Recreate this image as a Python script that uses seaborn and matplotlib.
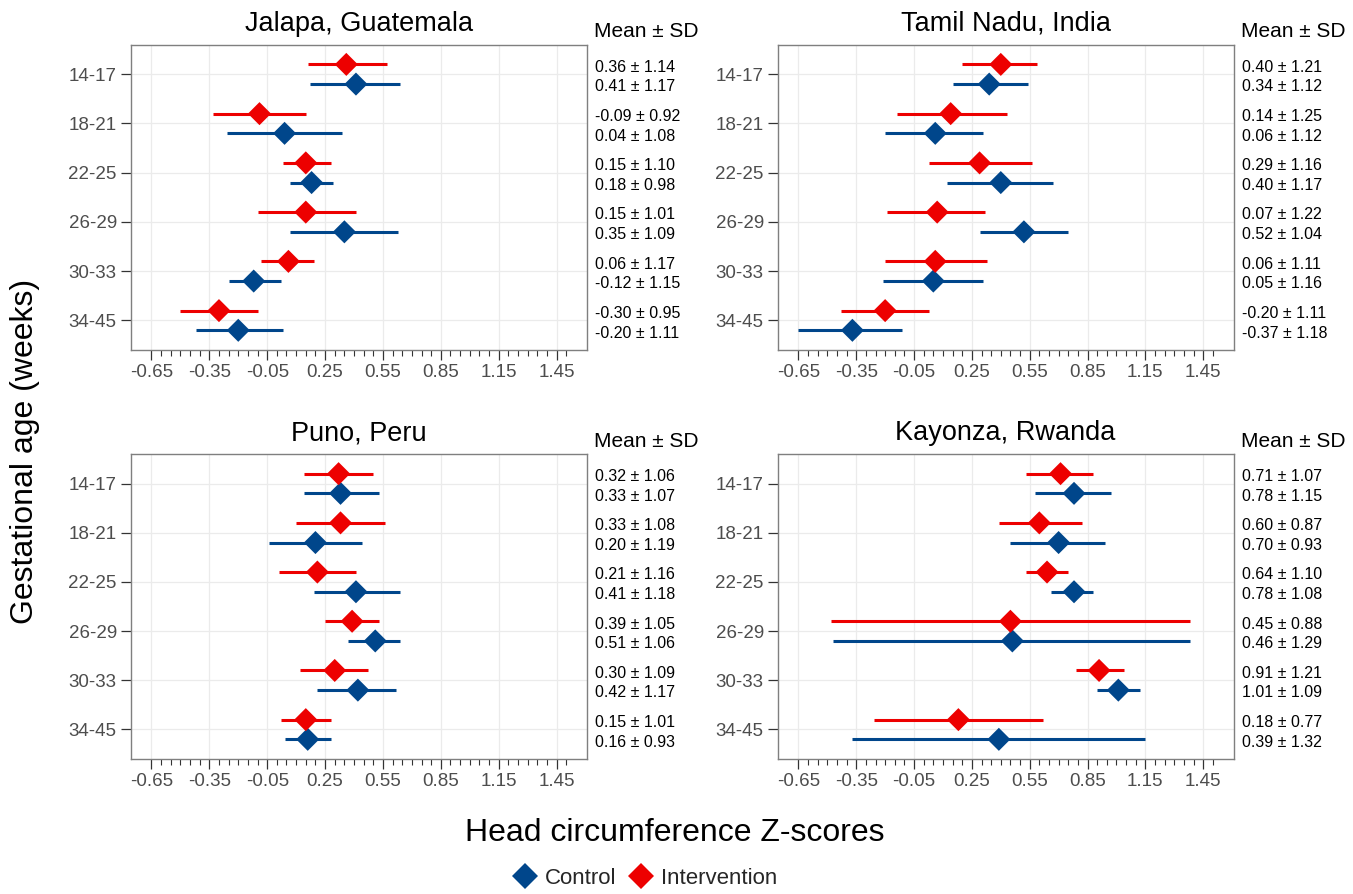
import numpy as np
import pandas as pd
import matplotlib
matplotlib.use("Agg")
import matplotlib.pyplot as plt
import matplotlib.transforms as mtransforms
from matplotlib.lines import Line2D
from matplotlib.ticker import FixedLocator
import seaborn as sns

# ---------------------------------------------------------------- data
age_groups = ["14-17", "18-21", "22-25", "26-29", "30-33", "34-45"]
regions = ["Jalapa, Guatemala", "Tamil Nadu, India", "Puno, Peru", "Kayonza, Rwanda"]
arms = ["Control", "Intervention"]
arm_colors = {"Control": "#00468B", "Intervention": "#ED0000"}

xticks = [-0.65, -0.35, -0.05, 0.25, 0.55, 0.85, 1.15, 1.45]
xtick_labels = ["-0.65", "-0.35", "-0.05", "0.25", "0.55", "0.85", "1.15", "1.45"]

# Jalapa, Guatemala
jal_int_mean = [0.36, -0.09, 0.15, 0.15, 0.06, -0.30]
jal_int_sd = [1.14, 0.92, 1.10, 1.01, 1.17, 0.95]
jal_int_lo = [0.16, -0.33, 0.03, -0.10, -0.08, -0.50]
jal_int_hi = [0.57, 0.15, 0.28, 0.41, 0.19, -0.10]
jal_ctl_mean = [0.41, 0.04, 0.18, 0.35, -0.12, -0.20]
jal_ctl_sd = [1.17, 1.08, 0.98, 1.09, 1.15, 1.11]
jal_ctl_lo = [0.17, -0.26, 0.07, 0.07, -0.25, -0.42]
jal_ctl_hi = [0.64, 0.34, 0.29, 0.63, 0.02, 0.03]

# Tamil Nadu, India
tam_int_mean = [0.40, 0.14, 0.29, 0.07, 0.06, -0.20]
tam_int_sd = [1.21, 1.25, 1.16, 1.22, 1.11, 1.11]
tam_int_lo = [0.20, -0.14, 0.03, -0.19, -0.20, -0.43]
tam_int_hi = [0.59, 0.43, 0.56, 0.32, 0.33, 0.03]
tam_ctl_mean = [0.34, 0.06, 0.40, 0.52, 0.05, -0.37]
tam_ctl_sd = [1.12, 1.12, 1.17, 1.04, 1.16, 1.18]
tam_ctl_lo = [0.15, -0.20, 0.12, 0.29, -0.21, -0.65]
tam_ctl_hi = [0.54, 0.31, 0.67, 0.75, 0.31, -0.11]

# Puno, Peru
pun_int_mean = [0.32, 0.33, 0.21, 0.39, 0.30, 0.15]
pun_int_sd = [1.06, 1.08, 1.16, 1.05, 1.09, 1.01]
pun_int_lo = [0.14, 0.10, 0.01, 0.25, 0.12, 0.02]
pun_int_hi = [0.50, 0.56, 0.41, 0.53, 0.47, 0.28]
pun_ctl_mean = [0.33, 0.20, 0.41, 0.51, 0.42, 0.16]
pun_ctl_sd = [1.07, 1.19, 1.18, 1.06, 1.17, 0.93]
pun_ctl_lo = [0.14, -0.04, 0.19, 0.37, 0.21, 0.04]
pun_ctl_hi = [0.53, 0.44, 0.64, 0.64, 0.62, 0.28]

# Kayonza, Rwanda
kay_int_mean = [0.71, 0.60, 0.64, 0.45, 0.91, 0.18]
kay_int_sd = [1.07, 0.87, 1.10, 0.88, 1.21, 0.77]
kay_int_lo = [0.53, 0.39, 0.53, -0.48, 0.79, -0.26]
kay_int_hi = [0.88, 0.82, 0.75, 1.38, 1.04, 0.62]
kay_ctl_mean = [0.78, 0.70, 0.78, 0.46, 1.01, 0.39]
kay_ctl_sd = [1.15, 0.93, 1.08, 1.29, 1.09, 1.32]
kay_ctl_lo = [0.58, 0.45, 0.66, -0.47, 0.90, -0.37]
kay_ctl_hi = [0.97, 0.94, 0.88, 1.38, 1.12, 1.15]

region_series = {
    "Jalapa, Guatemala": {
        "Intervention": (jal_int_mean, jal_int_sd, jal_int_lo, jal_int_hi),
        "Control": (jal_ctl_mean, jal_ctl_sd, jal_ctl_lo, jal_ctl_hi)},
    "Tamil Nadu, India": {
        "Intervention": (tam_int_mean, tam_int_sd, tam_int_lo, tam_int_hi),
        "Control": (tam_ctl_mean, tam_ctl_sd, tam_ctl_lo, tam_ctl_hi)},
    "Puno, Peru": {
        "Intervention": (pun_int_mean, pun_int_sd, pun_int_lo, pun_int_hi),
        "Control": (pun_ctl_mean, pun_ctl_sd, pun_ctl_lo, pun_ctl_hi)},
    "Kayonza, Rwanda": {
        "Intervention": (kay_int_mean, kay_int_sd, kay_int_lo, kay_int_hi),
        "Control": (kay_ctl_mean, kay_ctl_sd, kay_ctl_lo, kay_ctl_hi)},
}

rows = []
for reg in regions:
    for arm in arms:
        mean, sd, lo, hi = region_series[reg][arm]
        for i, g in enumerate(age_groups):
            rows.append(dict(region=reg, arm=arm, age=g, age_idx=i,
                             mean=mean[i], sd=sd[i], lo=lo[i], hi=hi[i]))
df = pd.DataFrame(rows)
dodge = {"Intervention": -0.2, "Control": 0.2}
df["ypos"] = df["age_idx"] + df["arm"].map(dodge)

# ---------------------------------------------------------------- style
sns.set_theme(style="white")
plt.rcParams["font.family"] = ["Liberation Sans", "DejaVu Sans"]

W, H = 1353, 894
fig = plt.figure(figsize=(W / 100, H / 100), dpi=100)

# panel boxes in pixels: left, right, top, bottom
boxes = {
    "Jalapa, Guatemala": (130.7, 587.0, 44.7, 350.0),
    "Tamil Nadu, India": (777.7, 1233.5, 44.7, 350.0),
    "Puno, Peru": (130.7, 587.0, 454.0, 759.0),
    "Kayonza, Rwanda": (777.7, 1233.5, 454.0, 759.0),
}

tick_grey = "#4D4D4D"
for reg in regions:
    l, r, t, b = boxes[reg]
    ax = fig.add_axes([l / W, 1 - b / H, (r - l) / W, (b - t) / H])
    sub = df[df["region"] == reg]

    # confidence-interval bars
    for arm in arms:
        s = sub[sub["arm"] == arm]
        ax.hlines(s["ypos"], s["lo"], s["hi"], color=arm_colors[arm],
                  lw=2.2, zorder=2)
    sns.scatterplot(data=sub, x="mean", y="ypos", hue="arm",
                    palette=arm_colors, marker="D", s=138, linewidth=0,
                    legend=False, ax=ax, zorder=3)

    ax.set_xlim(-0.7575, 1.6075)
    ax.set_ylim(len(age_groups) - 0.4, -0.6)
    ax.xaxis.set_major_locator(FixedLocator(xticks))
    ax.set_xticklabels(xtick_labels)
    ax.xaxis.set_minor_locator(FixedLocator(np.round(np.arange(-0.65, 1.501, 0.05), 2)))
    ax.set_yticks(range(len(age_groups)))
    ax.set_yticklabels(age_groups)
    ax.set_xlabel("")
    ax.set_ylabel("")

    ax.grid(True, which="major", color="#EBEBEB", lw=0.9)
    ax.set_axisbelow(True)
    for sp in ax.spines.values():
        sp.set_color("#7F7F7F")
        sp.set_linewidth(1.0)
    ax.tick_params(axis="both", which="major", length=7, width=0.9,
                   color="#333333", labelsize=13.5, labelcolor=tick_grey,
                   pad=3, bottom=True, left=True)
    ax.tick_params(axis="x", which="minor", length=4.3, width=0.8,
                   color="#333333", bottom=True)

    ax.text(0.5, 1.0, reg, transform=ax.transAxes + mtransforms.ScaledTranslation(0, 13.7 / 100, fig.dpi_scale_trans),
            ha="center", va="baseline", fontsize=19.5, color="black")
    ax.text(1.0, 1.0, "Mean ± SD",
            transform=ax.transAxes + mtransforms.ScaledTranslation(7.5 / 100, 7.4 / 100, fig.dpi_scale_trans),
            ha="left", va="baseline", fontsize=15, color="black")

    blend = mtransforms.blended_transform_factory(ax.transAxes, ax.transData)
    for _, row in sub.iterrows():
        ax.annotate(f"{row['mean']:.2f} ± {row['sd']:.2f}",
                    xy=(1.0, row["ypos"]), xycoords=blend,
                    xytext=(6, -2), textcoords="offset points",
                    ha="left", va="center", fontsize=11.5, color="black",
                    annotation_clip=False)

fig.text(675 / W, 1 - 840.7 / H, "Head circumference Z-scores",
         ha="center", va="baseline", fontsize=23, color="black")
fig.text(25 / W, 1 - 451 / H, "Gestational age (weeks)", rotation=90,
         ha="center", va="center", fontsize=23, color="black")

handles = [Line2D([], [], marker="D", linestyle="none", markersize=13,
                  markerfacecolor=arm_colors[a], markeredgewidth=0, label=a)
           for a in arms]
fig.legend(handles=handles, loc="center", ncol=2, frameon=False,
           bbox_to_anchor=(644 / W, 1 - 878 / H), fontsize=16,
           handletextpad=0.3, columnspacing=0.5, handlelength=1.2)

fig.savefig("out.png", dpi=100)
